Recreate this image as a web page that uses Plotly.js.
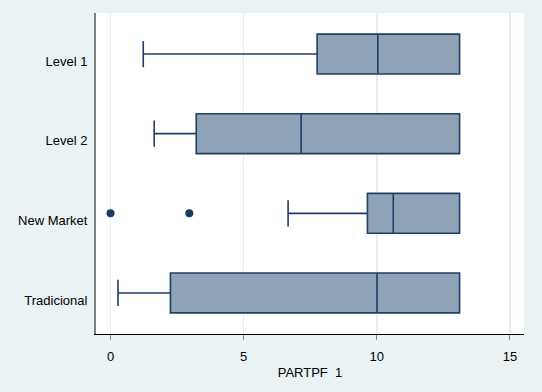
<!DOCTYPE html>
<html>
<head>
<meta charset="utf-8">
<script src="https://cdn.plot.ly/plotly-3.0.1.min.js"></script>
<style>html,body{margin:0;padding:0;background:#eaf2f3;}#chart{width:542px;height:392px;}</style>
</head>
<body>
<div id="chart"></div>
<script>
// Box statistics (PARTPF 1 by listing segment)
const categories = ['Level 1', 'Level 2', 'New Market', 'Tradicional'];
const lowerWhisker = [1.23, 1.64, 6.67, 0.28];
const q1Values = [7.76, 3.22, 9.65, 2.25];
const medianValues = [10.04, 7.16, 10.62, 10.01];
const q3Values = [13.11, 13.11, 13.11, 13.11];
const upperWhisker = [13.11, 13.11, 13.11, 13.11];
const outlierValues = [0.0, 2.96];
const outlierCategories = ['New Market', 'New Market'];
const xTicks = [0, 5, 10, 15];

const navy = '#1f3f68';
const boxTrace = {
  type: 'box',
  orientation: 'h',
  y: categories,
  q1: q1Values,
  median: medianValues,
  q3: q3Values,
  lowerfence: lowerWhisker,
  upperfence: upperWhisker,
  fillcolor: '#90a2b5',
  line: {color: navy, width: 1.6},
  width: 0.5,
  whiskerwidth: 0.66,
  boxpoints: false,
  hoverinfo: 'skip',
  showlegend: false
};
const outlierTrace = {
  type: 'scatter',
  mode: 'markers',
  x: outlierValues,
  y: outlierCategories,
  marker: {color: '#1a3a64', size: 8},
  hoverinfo: 'skip',
  showlegend: false
};

const layout = {
  width: 542,
  height: 392,
  paper_bgcolor: '#eaf2f3',
  plot_bgcolor: '#ffffff',
  margin: {l: 96, r: 18, t: 13, b: 58},
  font: {family: '"Liberation Sans", Arial, sans-serif', size: 13, color: '#000000'},
  xaxis: {
    range: [-0.545, 15.53],
    tickvals: xTicks,
    ticktext: xTicks.map(String),
    ticks: 'outside',
    ticklen: 5,
    tickwidth: 1,
    tickcolor: '#808080',
    ticklabelstandoff: 5,
    showgrid: true,
    gridcolor: '#e6eef1',
    gridwidth: 1.5,
    zeroline: false,
    showline: true,
    linecolor: '#000000',
    linewidth: 1.2,
    title: {text: 'PARTPF  1', standoff: 5, font: {size: 13}}
  },
  yaxis: {
    type: 'category',
    categoryorder: 'array',
    categoryarray: categories,
    range: [3.515, -0.515],
    showgrid: false,
    zeroline: false,
    showline: true,
    linecolor: '#808080',
    linewidth: 2,
    ticks: '',
    ticklabelshift: -7,
    ticklabelstandoff: 4
  }
};

Plotly.newPlot('chart', [boxTrace, outlierTrace], layout, {staticPlot: true, displayModeBar: false});
</script>
</body>
</html>
